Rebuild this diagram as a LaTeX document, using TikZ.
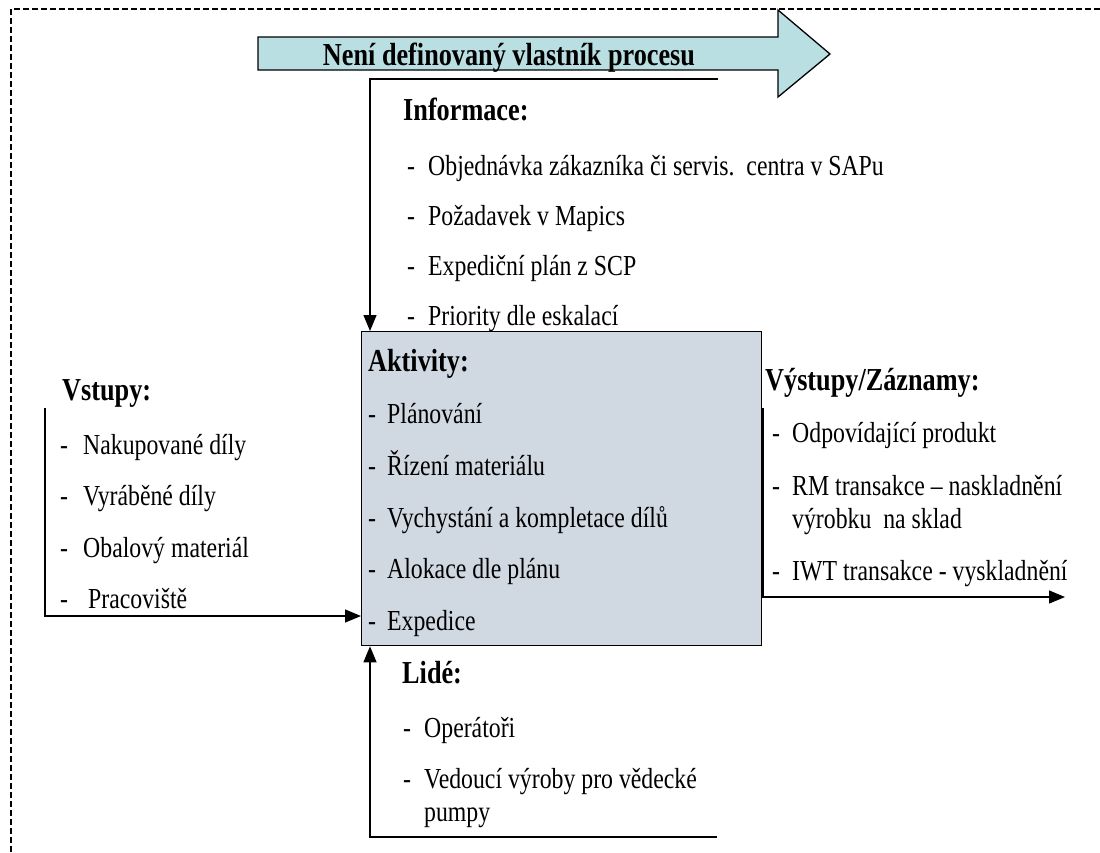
\documentclass[tikz,border=0pt]{standalone}
\usepackage{fontspec}
\setmainfont{Liberation Serif}[FakeStretch=0.82]
\usetikzlibrary{arrows.meta}
\definecolor{arrowfill}{RGB}{186,223,227}
\definecolor{boxfill}{RGB}{208,216,225}
% list entry: a hyphen in a fixed-width slot, then the text
\newcommand\itm[2][20pt]{\makebox[#1][l]{-}#2}

\begin{document}
\begin{tikzpicture}[x=1pt,y=-1pt,
  conn/.style={line width=1.3pt, -{Triangle[length=16pt,width=13pt]}},
  heading/.style={anchor=base west, inner sep=0pt, font=\fontsize{32}{36}\selectfont\bfseries},
  entry/.style={anchor=base west, inner sep=0pt, font=\fontsize{29}{33}\selectfont},
  frameline/.style={line width=1.6pt, dash pattern=on 6pt off 3pt}]
\useasboundingbox (0,0) rectangle (1100,852);

% dashed outer frame (left and top edges)
\draw[frameline] (11,852) -- (11,9) -- (1100,9);

% process-owner block arrow
\draw[fill=arrowfill, line width=1.3pt]
  (258,37) -- (778,37) -- (778,10) -- (830,54) -- (778,97) -- (778,70) -- (258,70) -- cycle;
\node[anchor=base, inner sep=0pt, font=\fontsize{32}{36}\selectfont\bfseries] (owner) at (509,65)
  {Není definovaný vlastník procesu};

% central activity box
\node[draw, fill=boxfill, line width=1.3pt, anchor=north west, inner sep=0pt,
      minimum width=400pt, minimum height=314pt] (act) at (361,331) {};

% information (from above)
\coordinate (infR) at (718,79);
\coordinate (infL) at (370,79);
\draw[conn] (infR) -- (infL) -- (infL |- act.north);
\node[heading] (infT) at (403,120) {Informace:};
\node[entry] (inf1) at (407,175) {\itm[21pt]{Objednávka zákazníka či servis.\ \ centra v SAPu}};
\node[entry] (inf2) at (407,225) {\itm[21pt]{Požadavek v Mapics}};
\node[entry] (inf3) at (407,275) {\itm[21pt]{Expediční plán z SCP}};
\node[entry] (inf4) at (407,325) {\itm[21pt]{Priority dle eskalací}};

% activities
\node[heading] (actT) at (368,371) {Aktivity:};
\node[entry] (act1) at (368,423) {\itm[19pt]{Plánování}};
\node[entry] (act2) at (368,475) {\itm[19pt]{Řízení materiálu}};
\node[entry] (act3) at (368,527) {\itm[19pt]{Vychystání a kompletace dílů}};
\node[entry] (act4) at (368,578) {\itm[19pt]{Alokace dle plánu}};
\node[entry] (act5) at (368,630) {\itm[19pt]{Expedice}};

% inputs (from the left)
\coordinate (inTop) at (45,408);
\coordinate (inBend) at (45,616);
\draw[conn] (inTop) -- (inBend) -- (inBend -| act.west);
\node[heading] (inT) at (62,400) {Vstupy:};
\node[entry] (in1) at (60,454) {\itm[23pt]{Nakupované díly}};
\node[entry] (in2) at (60,505) {\itm[23pt]{Vyráběné díly}};
\node[entry] (in3) at (60,557) {\itm[23pt]{Obalový materiál}};
\node[entry] (in4) at (60,608) {\itm[28pt]{Pracoviště}};

% outputs / records (to the right)
\coordinate (outTop) at (763,408);
\coordinate (outBend) at (763,597);
\coordinate (outEnd) at (1065,597);
\draw[conn] (outTop) -- (outBend) -- (outEnd);
\node[heading] (outT) at (765,390) {Výstupy/Záznamy:};
\node[entry] (out1) at (772,442) {\itm[20pt]{Odpovídající produkt}};
\node[entry] (out2) at (772,495) {\itm[20pt]{RM transakce – naskladnění}};
\node[entry] (out2b) at (792,528) {výrobku\ \ na sklad};
\node[entry] (out3) at (772,580) {\itm[20pt]{IWT transakce - vyskladnění}};

% people (from below)
\coordinate (pplR) at (717,837);
\coordinate (pplL) at (370,837);
\draw[conn] (pplR) -- (pplL) -- (pplL |- act.south);
\node[heading] (pplT) at (402,683) {Lidé:};
\node[entry] (ppl1) at (403,737) {\itm[21pt]{Operátoři}};
\node[entry] (ppl2) at (403,788) {\itm[21pt]{Vedoucí výroby pro vědecké}};
\node[entry] (ppl2b) at (424,821) {pumpy};
\end{tikzpicture}
\end{document}
